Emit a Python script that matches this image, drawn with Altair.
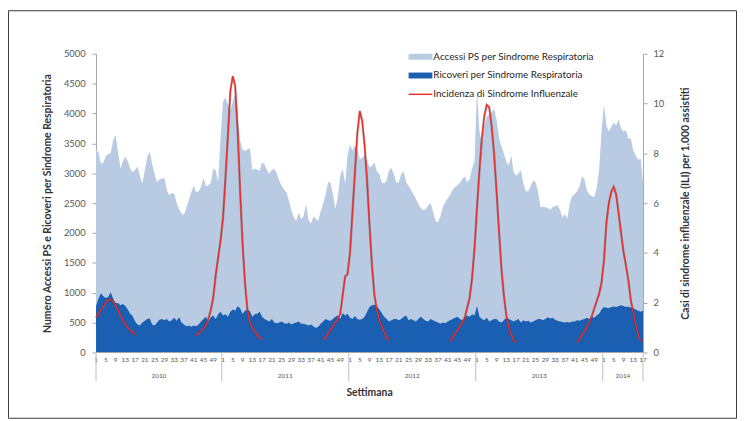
import altair as alt
import pandas as pd

# ---------------- data ----------------
years = [2010, 2011, 2012, 2013, 2014]
weeks_in_year = [52, 52, 52, 52, 17]
week_tick_labels = [1, 5, 9, 13, 17, 21, 25, 29, 33, 37, 41, 45, 49]
left_ticks = [0, 500, 1000, 1500, 2000, 2500, 3000, 3500, 4000, 4500, 5000]
right_ticks = [0, 2, 4, 6, 8, 10, 12]

accessi_2010 = [3400, 3350, 3160, 3180, 3290, 3320, 3340, 3550, 3640, 3350, 3080, 3200, 3280,
                3200, 3080, 3020, 3060, 3110, 2950, 2830, 3050, 3280, 3360, 3150, 2980, 2850,
                2900, 2910, 2920, 2720, 2630, 2670, 2660, 2500, 2400, 2330, 2300, 2420, 2550,
                2680, 2790, 2680, 2700, 2770, 2920, 2780, 2800, 2840, 3080, 3050, 2850, 3600]
accessi_2011 = [4200, 4270, 4150, 4050, 4200, 4350, 4000, 3550, 3400, 3370, 3400, 3420, 3050,
                3080, 3060, 3040, 3180, 3150, 3050, 2990, 3060, 3070, 3000, 2880, 2790, 2730,
                2680, 2540, 2380, 2260, 2200, 2340, 2230, 2280, 2480, 2220, 2160, 2270, 2240,
                2200, 2370, 2480, 2640, 2850, 2850, 2650, 2400, 2600, 2950, 3080, 2820, 3300]
accessi_2012 = [3480, 3380, 3470, 3400, 3230, 3260, 3300, 3220, 3100, 3120, 3180, 3030, 2990,
                2850, 2830, 2880, 3050, 3090, 2980, 2840, 2850, 2990, 3030, 2850, 2790, 2720,
                2650, 2570, 2480, 2420, 2380, 2400, 2460, 2500, 2360, 2200, 2180, 2280, 2430,
                2510, 2580, 2640, 2720, 2770, 2800, 2840, 2900, 2950, 2850, 2900, 3080, 3200]
accessi_2013 = [4400, 3700, 3500, 3800, 3950, 3980, 4020, 4080, 3900, 3600, 3450, 3330, 3200,
                3130, 3300, 3020, 2960, 3000, 3050, 2830, 2700, 2700, 2790, 2880, 2850, 2700,
                2430, 2440, 2430, 2420, 2390, 2430, 2450, 2460, 2390, 2260, 2320, 2240, 2500,
                2620, 2650, 2700, 2780, 2950, 2900, 2720, 2650, 2620, 2600, 2750, 3050, 3700]
accessi_2014 = [4150, 3800, 3700, 3780, 3850, 3800, 3900, 3750, 3700, 3720, 3580, 3580, 3380,
                3300, 3220, 3250, 2850]

ricoveri_2010 = [780, 900, 990, 940, 910, 930, 1010, 900, 830, 830, 790, 810, 780, 720, 650,
                 610, 520, 470, 450, 500, 530, 560, 570, 470, 450, 500, 550, 560, 540, 560, 520,
                 540, 580, 530, 590, 500, 470, 440, 450, 430, 450, 440, 470, 520, 560, 600, 520,
                 590, 620, 560, 640, 680]
ricoveri_2011 = [620, 640, 600, 680, 720, 700, 780, 740, 650, 700, 720, 690, 600, 640, 650,
                 680, 600, 560, 540, 520, 560, 500, 490, 500, 520, 490, 480, 500, 470, 490, 500,
                 520, 480, 480, 470, 450, 470, 440, 410, 430, 480, 520, 560, 540, 530, 560, 600,
                 620, 560, 660, 620, 650]
ricoveri_2012 = [580, 560, 610, 560, 550, 560, 600, 680, 760, 790, 800, 780, 720, 660, 600,
                 560, 520, 540, 560, 560, 540, 560, 600, 620, 540, 560, 540, 520, 560, 600, 560,
                 530, 520, 560, 540, 520, 500, 480, 500, 490, 520, 540, 560, 580, 600, 560, 540,
                 580, 620, 600, 640, 620]
ricoveri_2013 = [780, 600, 560, 540, 580, 520, 540, 560, 560, 520, 500, 540, 580, 560, 540,
                 520, 540, 560, 500, 540, 520, 530, 500, 520, 540, 560, 560, 540, 560, 590, 570,
                 580, 550, 530, 520, 510, 500, 510, 500, 520, 520, 540, 530, 550, 560, 580, 560,
                 600, 580, 620, 650, 720]
ricoveri_2014 = [760, 750, 740, 760, 770, 760, 780, 790, 780, 760, 770, 750, 740, 720, 700,
                 680, 700]

ili_seasons = ["2009/10", "2010/11", "2011/12", "2012/13", "2013/14"]
ili_start_year = [2010, 2010, 2011, 2012, 2013]
ili_start_week = [1, 42, 42, 42, 42]
ili_2009_10 = [1.4, 1.55, 1.7, 1.85, 2.0, 2.12, 2.12, 2.05, 1.9, 1.7, 1.5, 1.27, 1.12, 1.0,
               0.9, 0.8, 0.72]
ili_2010_11 = [0.7, 0.75, 0.85, 0.95, 1.1, 1.35, 1.7, 2.2, 3.1, 3.8, 4.5,
               5.4, 7.0, 8.7, 10.5, 11.1, 10.7, 8.9, 6.5, 4.4, 2.8, 1.7, 1.2, 1.0, 0.85, 0.7,
               0.6, 0.5]
ili_2011_12 = [0.5, 0.6, 0.75, 0.9, 1.05, 1.2, 1.35, 1.55, 2.3, 3.05, 3.15,
               4.0, 5.6, 7.2, 8.8, 9.7, 9.3, 8.3, 6.9, 5.1, 3.5, 2.3, 1.7, 1.3, 1.05, 0.8,
               0.6, 0.5]
ili_2012_13 = [0.45, 0.6, 0.75, 0.9, 1.05, 1.2, 1.4, 1.8, 2.2, 3.0, 4.2,
               5.8, 7.3, 8.6, 9.5, 9.95, 9.85, 9.1, 8.0, 6.5, 4.9, 3.4, 2.3, 1.5, 1.0, 0.7,
               0.5, 0.4]
ili_2013_14 = [0.4, 0.55, 0.7, 0.85, 1.0, 1.2, 1.45, 1.75, 2.05, 2.35, 2.8,
               3.7, 5.2, 6.0, 6.45, 6.65, 6.35, 5.6, 4.8, 4.05, 3.5, 2.9, 2.1, 1.6, 1.1, 0.7,
               0.45]

legend_labels = ["Accessi PS per Sindrome Respiratoria",
                 "Ricoveri per Sindrome Respiratoria",
                 "Incidenza di Sindrome Influenzale"]

# ---------------- build tables ----------------
accessi = [accessi_2010, accessi_2011, accessi_2012, accessi_2013, accessi_2014]
ricoveri = [ricoveri_2010, ricoveri_2011, ricoveri_2012, ricoveri_2013, ricoveri_2014]
ili_values = [ili_2009_10, ili_2010_11, ili_2011_12, ili_2012_13, ili_2013_14]

offsets = {}
rows = []
o = 0
for y, n, acc, ric in zip(years, weeks_in_year, accessi, ricoveri):
    offsets[y] = o
    for w in range(n):
        rows.append({"i": o + w, "year": y, "week": w + 1,
                     "accessi": acc[w], "ricoveri": ric[w]})
    o += n
last_i = o - 1
df = pd.DataFrame(rows)

ili_rows = []
for s, sy, sw, vals in zip(ili_seasons, ili_start_year, ili_start_week, ili_values):
    start = offsets[sy] + sw - 1
    for k, v in enumerate(vals):
        ili_rows.append({"i": start + k, "ili": v, "season": s})
ili_df = pd.DataFrame(ili_rows)

tick_rows = []
for y, n in zip(years, weeks_in_year):
    for w in week_tick_labels:
        if w <= n:
            tick_rows.append({"i": offsets[y] + w - 1, "lab": str(w)})
tick_df = pd.DataFrame(tick_rows)

bounds = [0] + [offsets[y] - 0.5 for y in years[1:]] + [last_i]
sep_df = pd.DataFrame({"i": bounds})
year_df = pd.DataFrame({"i": [(bounds[k] + bounds[k + 1]) / 2 for k in range(len(years))],
                        "lab": [str(y) for y in years]})

# ---------------- styling ----------------
W, H = 553, 302
FONT = "Lato"
LIGHT = "#b8cbe3"
DARK = "#1a5fb2"
RED = "#e8302a"
AXC = "#a6a6a6"

xs = alt.Scale(domain=[0, last_i], nice=False, zero=False)

left_axis = alt.Axis(values=left_ticks, format="d", grid=False, title=
                     "Numero Accessi PS e Ricoveri per Sindrome Respiratoria",
                     titleAngle=270, titleX=-49, titleY=H / 2, titleAlign="center",
                     titleBaseline="middle", titleFont=FONT, titleFontSize=10.5,
                     titleFontWeight="bold", titleColor="#333333",
                     labelFont=FONT, labelFontSize=9.5, labelColor="#595959",
                     labelPadding=7, tickSize=4, tickColor=AXC, domainColor=AXC)
right_axis = alt.Axis(orient="right", values=right_ticks, format="d", grid=False, title=
                      "Casi di sindrome influenzale (ILI) per 1.000 assistiti",
                      titleAngle=270, titleX=43, titleY=H / 2, titleAlign="center",
                      titleBaseline="middle", titleFont=FONT, titleFontSize=10.5,
                      titleFontWeight="bold", titleColor="#333333",
                      labelFont=FONT, labelFontSize=9.5, labelColor="#595959",
                      labelPadding=6, tickSize=4, tickColor=AXC, domainColor=AXC)

ly = alt.Scale(domain=[0, 5000], nice=False)
ry = alt.Scale(domain=[0, 12], nice=False)

base = alt.Chart(df)
light = base.mark_area(color=LIGHT, opacity=1).encode(
    x=alt.X("i:Q", scale=xs, axis=None),
    y=alt.Y("accessi:Q", scale=ly, axis=left_axis))
dark = base.mark_area(color=DARK, opacity=1).encode(
    x=alt.X("i:Q", scale=xs, axis=None),
    y=alt.Y("ricoveri:Q", scale=ly, axis=left_axis))
left = alt.layer(light, dark)

ili_base = alt.Chart(ili_df)
shadow = ili_base.mark_line(color="#8e1a17", strokeWidth=2.3, opacity=0.45).encode(
    x=alt.X("i:Q", scale=xs, axis=None),
    y=alt.Y("ili:Q", scale=ry, axis=right_axis),
    detail="season:N")
line = ili_base.mark_line(color=RED, strokeWidth=1.3).encode(
    x=alt.X("i:Q", scale=xs, axis=None),
    y=alt.Y("ili:Q", scale=ry, axis=right_axis),
    detail="season:N")
right = alt.layer(shadow, line)

# x axis pieces
baseline_rule = alt.Chart(pd.DataFrame({"a": [0]})).mark_rule(color=AXC, strokeWidth=1).encode(
    x=alt.value(0), x2=alt.value(W), y=alt.value(H))
week_text = alt.Chart(tick_df).mark_text(font=FONT, fontSize=6.5, color="#595959",
                                         baseline="middle", align="center").encode(
    x=alt.X("i:Q", scale=xs, axis=None), y=alt.value(H + 8), text="lab:N")
seps = alt.Chart(sep_df).mark_rule(color="#bfbfbf", strokeWidth=1).encode(
    x=alt.X("i:Q", scale=xs, axis=None), y=alt.value(H), y2=alt.value(H + 29))
year_text = alt.Chart(year_df).mark_text(font=FONT, fontSize=6.5, color="#595959",
                                         baseline="middle", align="center").encode(
    x=alt.X("i:Q", scale=xs, axis=None), y=alt.value(H + 24), text="lab:N")
xtitle = alt.Chart(pd.DataFrame({"t": ["Settimana"]})).mark_text(
    font=FONT, fontSize=10.5, fontWeight="bold", color="#333333",
    baseline="middle", align="center").encode(
    x=alt.value(W / 2), y=alt.value(H + 41), text="t:N")

# legend
LX = 316
leg = []
leg.append(alt.Chart(pd.DataFrame({"a": [0]})).mark_rect(color=LIGHT).encode(
    x=alt.value(LX), x2=alt.value(LX + 24), y=alt.value(0), y2=alt.value(6)))
leg.append(alt.Chart(pd.DataFrame({"a": [0]})).mark_rect(color=DARK).encode(
    x=alt.value(LX), x2=alt.value(LX + 24), y=alt.value(19), y2=alt.value(25)))
leg.append(alt.Chart(pd.DataFrame({"a": [0]})).mark_rule(color=RED, strokeWidth=1.5).encode(
    x=alt.value(LX), x2=alt.value(LX + 24), y=alt.value(41), y2=alt.value(41)))
for k, lab in enumerate(legend_labels):
    leg.append(alt.Chart(pd.DataFrame({"t": [lab]})).mark_text(
        font=FONT, fontSize=10, color="#262626", baseline="middle", align="left").encode(
        x=alt.value(LX + 25), y=alt.value([3, 22, 41][k]), text="t:N"))

PAD_L, PAD_T = 89, 44
SVG_W, SVG_H = 737, 413
border = alt.Chart(pd.DataFrame({"a": [0]})).mark_rect(
    fillOpacity=0, stroke="#3a3a3a", strokeWidth=1).encode(
    x=alt.value(-PAD_L + 0.5), x2=alt.value(SVG_W - PAD_L - 0.5),
    y=alt.value(-PAD_T + 0.5), y2=alt.value(SVG_H - PAD_T - 0.5))

chart = alt.layer(left, right, baseline_rule, week_text, seps, year_text, xtitle,
                  *leg, border).resolve_scale(y="independent").properties(
    width=W, height=H,
    autosize=alt.AutoSizeParams(type="none"),
    padding={"left": PAD_L, "top": PAD_T, "right": SVG_W - PAD_L - W,
             "bottom": SVG_H - PAD_T - H},
    background="white",
).configure_view(stroke=None)

chart.save("out.html", embed_options={"renderer": "svg", "actions": False})
